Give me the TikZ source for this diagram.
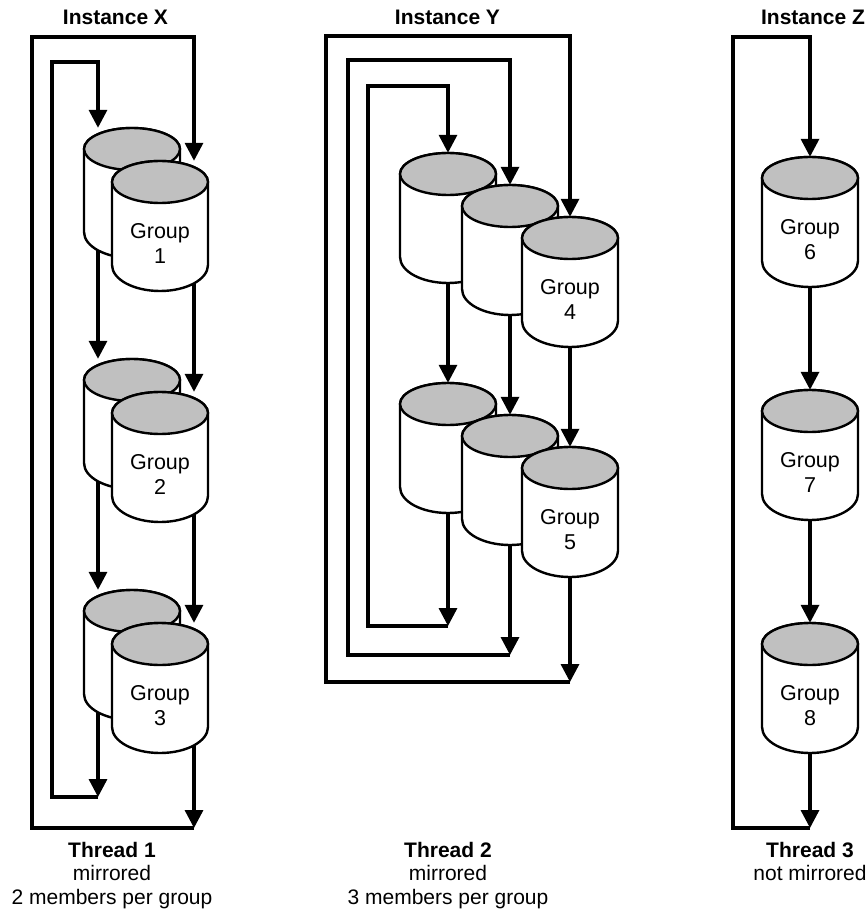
\documentclass[tikz,border=0pt]{standalone}
\usepackage{fontspec}
\setmainfont{Liberation Sans}
\usetikzlibrary{arrows.meta,backgrounds}
\definecolor{cylgray}{RGB}{192,192,192}
\tikzset{
  conn/.style={line width=3.4pt, line join=miter},
  arr/.style={conn, -{Triangle[length=18pt,width=18pt]}},
  cylbody/.style={fill=white, draw=black, line width=2.4pt},
  cyltop/.style={fill=cylgray, draw=black, line width=2.4pt},
  cylbox/.style={draw=none, minimum width=96pt, minimum height=130pt, inner sep=0pt},
  cyltext/.style={align=center, font=\fontsize{21.5}{25}\selectfont, inner sep=0pt},
  title/.style={font=\fontsize{21}{25}\selectfont\bfseries, inner sep=0pt},
  caption/.style={align=center, font=\fontsize{21}{23.5}\selectfont, inner sep=0pt, anchor=north},
}
% #1 name, #2 centre x, #3 top y (screen, downward)
\newcommand\mycylshape[3]{%
  \filldraw[cylbody] ({#2-48},{-#3-21}) -- ({#2-48},{-#3-104})
    arc[start angle=180,end angle=360,x radius=48,y radius=26]
    -- ({#2+48},{-#3-21})
    arc[start angle=0,end angle=180,x radius=48,y radius=21] -- cycle;
  \filldraw[cyltop] (#2,{-#3-21}) ellipse[x radius=48,y radius=21];
  \node[cylbox] (#1) at (#2,{-#3-65}) {};
}
\newcommand\mycyltext[4]{%
  \mycylshape{#1}{#2}{#3}
  \node[cyltext] (#1t) at (#2,{-#3-82.5}) {Group\\#4};
}
\begin{document}
\begin{tikzpicture}[x=1pt,y=1pt]
\useasboundingbox (0,0) rectangle (866,-912);

% titles
\node[title] (tx) at (115.5,-17) {Instance X};
\node[title] (ty) at (447.5,-17) {Instance Y};
\node[title] (tz) at (813,-17) {Instance Z};

% Instance X cylinders
\mycylshape{g1b}{132}{128}
\mycyltext{g1f}{160}{161}{1}
\mycylshape{g2b}{132}{359}
\mycyltext{g2f}{160}{392}{2}
\mycylshape{g3b}{132}{590}
\mycyltext{g3f}{160}{623}{3}

% Instance Y cylinders
\mycylshape{g4a}{448}{153}
\mycylshape{g4b}{510}{185}
\mycyltext{g4f}{570}{217}{4}
\mycylshape{g5a}{448}{383}
\mycylshape{g5b}{510}{415}
\mycyltext{g5f}{570}{447}{5}

% Instance Z cylinders
\mycyltext{g6}{810}{157}{6}
\mycyltext{g7}{810}{390}{7}
\mycyltext{g8}{810}{623}{8}

% loop corners
\coordinate (xot) at (194,-37);  \coordinate (xol) at (32,-37);  \coordinate (xob) at (194,-828);
\coordinate (xit) at (98,-62);   \coordinate (xil) at (52,-62);  \coordinate (xib) at (98,-797);
\coordinate (yot) at (570,-36);  \coordinate (yol) at (326,-36); \coordinate (yob) at (570,-682);
\coordinate (ymt) at (510,-60);  \coordinate (yml) at (348,-60); \coordinate (ymb) at (510,-655);
\coordinate (yit) at (448,-86);  \coordinate (yil) at (368,-86); \coordinate (yib) at (448,-626);
\coordinate (zt) at (810,-37);   \coordinate (zl) at (733,-37);  \coordinate (zb) at (810,-828);

\begin{pgfonlayer}{background}
% Instance X
\draw[arr] (xob) -| (xol) -- (xot) -- (g1f.north -| xot);
\draw[arr] (g1f.center -| xot) -- (g2f.north -| xot);
\draw[arr] (g2f.center -| xot) -- (g3f.north -| xot);
\draw[arr] (g3f.center -| xot) -- (xob);
\draw[arr] (xib) -| (xil) -- (xit) -- (g1b.north -| xit);
\draw[arr] (g1b.center -| xit) -- (g2b.north -| xit);
\draw[arr] (g2b.center -| xit) -- (g3b.north -| xit);
\draw[arr] (g3b.center -| xit) -- (xib);
% Instance Y
\draw[arr] (yob) -| (yol) -- (yot) -- (g4f.north -| yot);
\draw[arr] (g4f.center -| yot) -- (g5f.north -| yot);
\draw[arr] (g5f.center -| yot) -- (yob);
\draw[arr] (ymb) -| (yml) -- (ymt) -- (g4b.north -| ymt);
\draw[arr] (g4b.center -| ymt) -- (g5b.north -| ymt);
\draw[arr] (g5b.center -| ymt) -- (ymb);
\draw[arr] (yib) -| (yil) -- (yit) -- (g4a.north -| yit);
\draw[arr] (g4a.center -| yit) -- (g5a.north -| yit);
\draw[arr] (g5a.center -| yit) -- (yib);
% Instance Z
\draw[arr] (zb) -| (zl) -- (zt) -- (g6.north -| zt);
\draw[arr] (g6.center -| zt) -- (g7.north -| zt);
\draw[arr] (g7.center -| zt) -- (g8.north -| zt);
\draw[arr] (g8.center -| zt) -- (zb);
\end{pgfonlayer}

% captions
\node[caption] (c1) at (112,-841.7) {\textbf{Thread 1}\\mirrored\\2 members per group};
\node[caption] (c2) at (448,-841.7) {\textbf{Thread 2}\\mirrored\\3 members per group};
\node[caption] (c3) at (810,-841.7) {\textbf{Thread 3}\\not mirrored};
\end{tikzpicture}
\end{document}
